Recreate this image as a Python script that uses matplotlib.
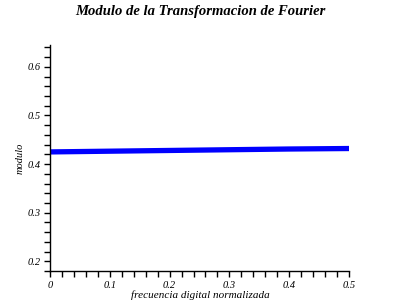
import numpy as np
import matplotlib
matplotlib.use("Agg")
import matplotlib.pyplot as plt
from matplotlib.ticker import MultipleLocator, FuncFormatter

# Frequency (normalized) and magnitude
freq = [0.0, 0.1, 0.2, 0.3, 0.4, 0.5]
modulo = [0.4250, 0.4265, 0.4280, 0.4295, 0.4310, 0.4320]

title = "Modulo de la Transformacion de Fourier"
ylabel = "modulo"
xlabel = "frecuencia digital normalizada"

plt.rcParams['font.family'] = ['Liberation Serif', 'DejaVu Serif']

fig = plt.figure(figsize=(4, 3), dpi=100)
ax = fig.add_axes([0.125, 0.0967, 0.7475, 0.7533])

ax.plot(freq, modulo, color=(0, 0, 1), linewidth=3.8, solid_capstyle='round')

ax.set_xlim(0, 0.5)
ax.set_ylim(0.18, 0.645)

for side in ['top', 'right']:
    ax.spines[side].set_visible(False)
ax.spines['left'].set_linewidth(1.0)
ax.spines['bottom'].set_linewidth(1.0)

ax.xaxis.set_major_locator(MultipleLocator(0.1))
ax.xaxis.set_minor_locator(MultipleLocator(0.02))
ax.yaxis.set_major_locator(MultipleLocator(0.1))
ax.yaxis.set_minor_locator(MultipleLocator(0.02))

fmt = FuncFormatter(lambda v, p: "0" if abs(v) < 1e-9 else f"{v:.1f}")
ax.xaxis.set_major_formatter(fmt)
ax.yaxis.set_major_formatter(fmt)

ax.tick_params(which='both', direction='out', length=4, width=1, color='black')
ax.tick_params(axis='both', labelsize=7.5, pad=3)
for lab in ax.get_xticklabels() + ax.get_yticklabels():
    lab.set_fontstyle('italic')

ax.set_ylabel(ylabel, fontsize=7.5, fontstyle='italic', labelpad=2)
fig.text(0.5, 0.0, xlabel, ha='center', va='bottom', fontsize=8, fontstyle='italic')
fig.text(0.5, 0.96, title, ha='center', va='center', fontsize=10.5,
         fontstyle='italic', fontweight='bold')

fig.savefig("out.png", dpi=100)
